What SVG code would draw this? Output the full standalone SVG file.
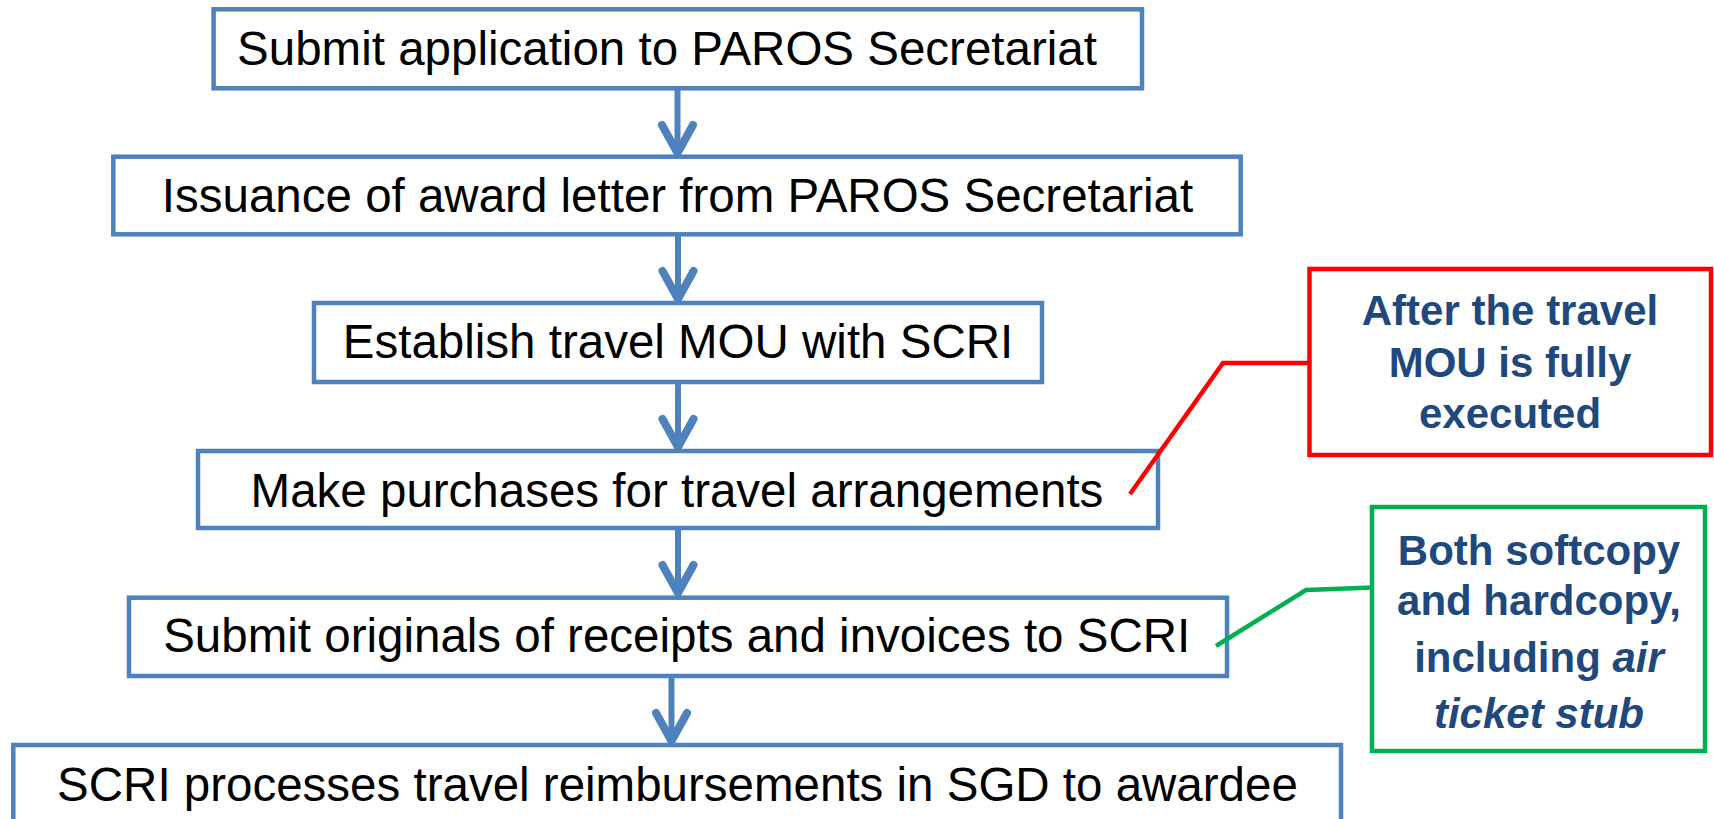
<svg xmlns="http://www.w3.org/2000/svg" width="1714" height="819" viewBox="0 0 1714 819">
  <style>
    .box { fill: #FFFFFF; stroke: #4F81BD; stroke-width: 4.5; }
    .main { font-family: "Liberation Sans", Arial, sans-serif; font-size: 47.5px; fill: #000000; text-anchor: middle; }
    .note { font-family: "Liberation Sans", Arial, sans-serif; font-size: 42px; font-weight: bold; fill: #1F497D; text-anchor: middle; }
    .shaft { stroke: #4F81BD; stroke-width: 6; fill: none; }
    .head { stroke: #4F81BD; stroke-width: 8; fill: none; stroke-linecap: round; stroke-linejoin: round; }
    .red { stroke: #FF0000; stroke-width: 4.5; fill: none; }
    .green { stroke: #00B050; stroke-width: 4.5; fill: none; }
  </style>
  <rect width="1714" height="819" fill="#FFFFFF"/>

  <g id="node1">
    <rect class="box" x="213.6" y="9.3" width="928.4" height="79"/>
    <text class="main" x="667" y="65">Submit application to PAROS Secretariat</text>
  </g>
  <g id="node2">
    <rect class="box" x="113.3" y="156.7" width="1127.4" height="77.6"/>
    <text class="main" x="677.5" y="211.7">Issuance of award letter from PAROS Secretariat</text>
  </g>
  <g id="node3">
    <rect class="box" x="314" y="303" width="728" height="79"/>
    <text class="main" x="678" y="358">Establish travel MOU with SCRI</text>
  </g>
  <g id="node4">
    <rect class="box" x="198" y="451" width="960" height="77"/>
    <text class="main" x="677" y="506.7">Make purchases for travel arrangements</text>
  </g>
  <g id="node5">
    <rect class="box" x="129" y="597.7" width="1098" height="78.3"/>
    <text class="main" x="676.7" y="651.7">Submit originals of receipts and invoices to SCRI</text>
  </g>
  <g id="node6">
    <rect class="box" x="13.3" y="745" width="1327.7" height="90"/>
    <text class="main" x="677.5" y="801">SCRI processes travel reimbursements in SGD to awardee</text>
  </g>

  <g id="note-mou">
    <rect x="1309.5" y="269" width="401.5" height="186" fill="#FFFFFF" stroke="#FF0000" stroke-width="4.5"/>
    <text class="note" x="1510" y="325">After the travel</text>
    <text class="note" x="1510" y="377">MOU is fully</text>
    <text class="note" x="1510" y="428">executed</text>
  </g>
  <g id="note-copies">
    <rect x="1372" y="507" width="333" height="244" fill="#FFFFFF" stroke="#00B050" stroke-width="4.5"/>
    <text class="note" x="1539" y="565">Both softcopy</text>
    <text class="note" x="1539" y="615">and hardcopy,</text>
    <text class="note" x="1539" y="671.7">including <tspan font-style="italic">air</tspan></text>
    <text class="note" x="1539" y="728.3" font-style="italic">ticket stub</text>
  </g>

  <g id="connectors">
    <line class="shaft" x1="677.5" y1="88" x2="677.5" y2="154"/>
    <polyline class="head" points="662,125 677.5,153 693,125"/>
    <line class="shaft" x1="678" y1="234" x2="678" y2="300"/>
    <polyline class="head" points="662.5,271 678,299 693.5,271"/>
    <line class="shaft" x1="678" y1="382" x2="678" y2="448"/>
    <polyline class="head" points="662.5,419 678,447 693.5,419"/>
    <line class="shaft" x1="678" y1="528" x2="678" y2="594"/>
    <polyline class="head" points="662.5,565 678,593 693.5,565"/>
    <line class="shaft" x1="671.5" y1="676" x2="671.5" y2="742"/>
    <polyline class="head" points="656,713 671.5,741 687,713"/>
    <polyline class="red" points="1130,494 1223,363 1310,363"/>
    <polyline class="green" points="1216,646 1306,590 1373,587.5"/>
  </g>
</svg>
